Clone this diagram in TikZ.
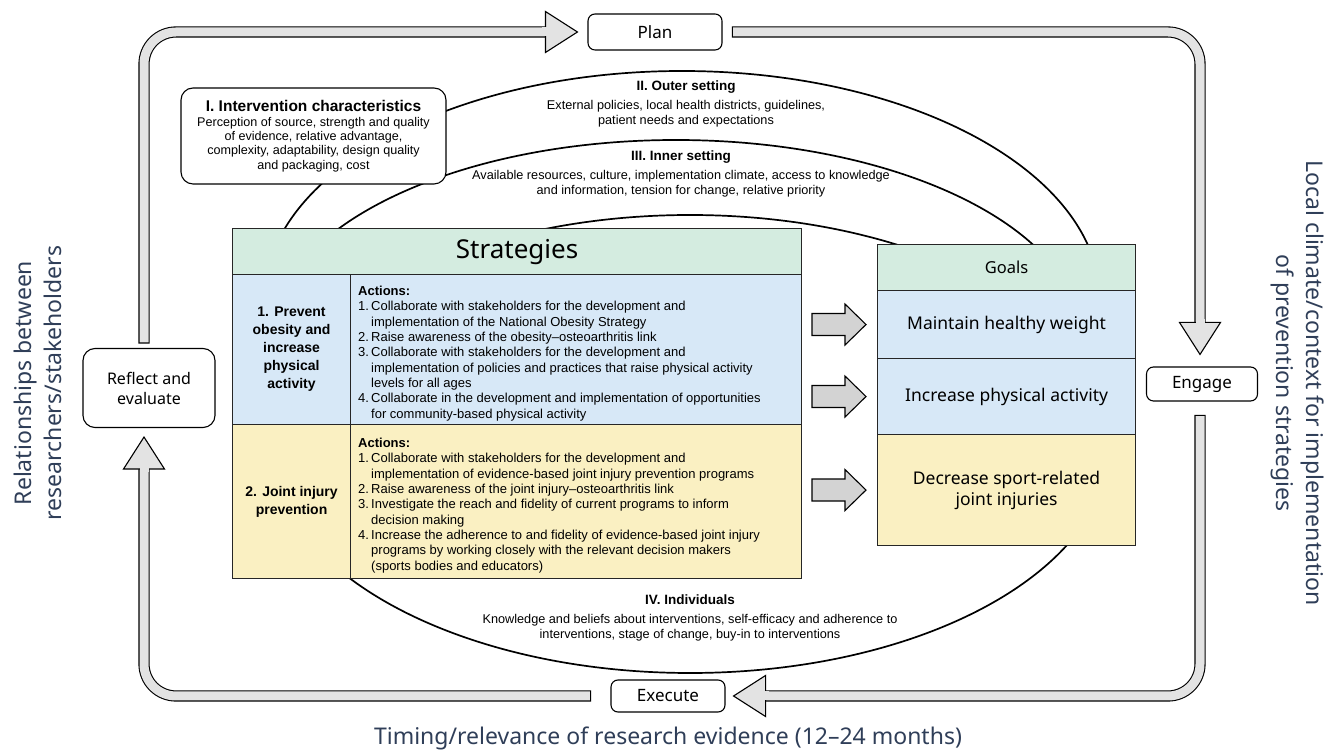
\documentclass[tikz,border=0pt]{standalone}
\usepackage{fontspec}
\setmainfont{Liberation Sans}
\newfontfamily\plainsans{Noto Sans}
\usepackage{tikz}
\usetikzlibrary{calc}

\definecolor{hdrgreen}{HTML}{D4ECE0}
\definecolor{rowblue}{HTML}{D7E8F7}
\definecolor{rowyellow}{HTML}{FAF0C2}
\definecolor{bandgray}{HTML}{E3E3E3}
\definecolor{blockgray}{HTML}{D3D3D3}
\definecolor{sideblue}{HTML}{2F3E58}

\newcommand{\acttxt}{\fontsize{13}{15.3}\selectfont}
\newcommand{\ringtxt}{\fontsize{12.7}{15.5}\selectfont}
\newcommand{\rowtxt}{\bfseries\fontsize{14}{18}\selectfont}
\newcommand{\goaltxt}{\plainsans\fontsize{17.5}{21}\selectfont}
\newlength{\actind}
\setlength{\actind}{1.3em}
\newcommand{\actno}[1]{\makebox[\actind][l]{#1.}}
\newcommand{\actcont}{\hspace*{\actind}}
\newcommand{\bandhead}[2]{%
  \draw[line width=1.1pt, fill=bandgray, shift={#1}, rotate=#2]
    (0,0) -- (-32,20.5) -- (-32,-20.5) -- cycle;
  \fill[bandgray, shift={#1}, rotate=#2] (-35,-4.5) rectangle (-30,4.5);}

\begin{document}
\begin{tikzpicture}[x=1pt, y=1pt,
  every node/.style={inner sep=0pt},
  loopbox/.style={draw, line width=1.1pt, rounded corners=7pt, fill=white,
    font={\plainsans\fontsize{17}{20}\selectfont}},
  tablecell/.style={draw=black!85, line width=1.1pt, anchor=north west},
  loopband/.style={draw, line width=1.1pt, double=bandgray,
    double distance=9pt, line cap=rect, rounded corners=32pt},
  ringline/.style={line width=1.7pt},
  blockarr/.style={draw, line width=1.1pt, fill=blockgray},
  sidelabel/.style={text=sideblue, align=center,
    font={\plainsans\fontsize{23}{30}\selectfont}}]

  \useasboundingbox (0,0) rectangle (1332,749);

  % domains behind the tables
  \begin{scope}
    \clip (0,505) rectangle (1332,749);
    \draw[ringline] (682,449) ellipse [x radius=418, y radius=229];
    \draw[ringline] (676,409) ellipse [x radius=406, y radius=200];
  \end{scope}
  \draw[ringline] (690,305) ellipse [x radius=420, y radius=229];

  \node[align=center, anchor=north, font=\ringtxt] (outer) at (686,668)
    {{\bfseries\fontsize{13.5}{15}\selectfont II. Outer setting}\\[3pt]
     External policies, local health districts, guidelines,\\
     patient needs and expectations};

  \node[align=center, anchor=north, font=\ringtxt] (inner) at (681,598)
    {{\bfseries\fontsize{13.5}{15}\selectfont III. Inner setting}\\[3pt]
     Available resources, culture, implementation climate, access to knowledge\\
     and information, tension for change, relative priority};

  \node[align=center, anchor=north, font=\ringtxt] (indiv) at (690,154)
    {{\bfseries\fontsize{13.5}{15}\selectfont IV. Individuals}\\[3pt]
     Knowledge and beliefs about interventions, self-efficacy and adherence to\\
     interventions, stage of change, buy-in to interventions};

  \node[draw, line width=1.1pt, rounded corners=12pt, fill=white,
    minimum width=265pt, minimum height=96pt, align=center,
    font=\fontsize{12.6}{14.2}\selectfont]
    (interv) at (313.5,613)
    {{\bfseries\fontsize{15.5}{17}\selectfont I. Intervention characteristics}\\[1pt]
     Perception of source, strength and quality\\
     of evidence, relative advantage,\\
     complexity, adaptability, design quality\\
     and packaging, cost};

  % strategies table
  \node[tablecell, fill=hdrgreen, minimum width=569pt, minimum height=46pt,
    font={\plainsans\fontsize{26}{30}\selectfont}]
    (strat) at (232,521) {Strategies};
  \node[tablecell, fill=rowblue, minimum width=118pt, minimum height=150pt,
    align=center, font=\rowtxt]
    (prevent) at (232,475) {1. Prevent\\obesity and\\increase\\physical\\activity};
  \node[tablecell, fill=rowblue, minimum width=451pt, minimum height=150pt]
    (preventact) at (350,475) {};
  \node[tablecell, fill=rowyellow, minimum width=118pt, minimum height=154pt,
    align=center, font=\rowtxt]
    (joint) at (232,325) {2. Joint injury\\prevention};
  \node[tablecell, fill=rowyellow, minimum width=451pt, minimum height=154pt]
    (jointact) at (350,325) {};

  \node[anchor=north west, align=left, font=\acttxt]
    (preventtxt) at ($(preventact.north west)+(8,-12)$)
    {{\bfseries Actions:}\\
     \actno{1}Collaborate with stakeholders for the development and\\
     \actcont implementation of the National Obesity Strategy\\
     \actno{2}Raise awareness of the obesity–osteoarthritis link\\
     \actno{3}Collaborate with stakeholders for the development and\\
     \actcont implementation of policies and practices that raise physical activity\\
     \actcont levels for all ages\\
     \actno{4}Collaborate in the development and implementation of opportunities\\
     \actcont for community-based physical activity};

  \node[anchor=north west, align=left, font=\acttxt]
    (jointtxt) at ($(jointact.north west)+(8,-14)$)
    {{\bfseries Actions:}\\
     \actno{1}Collaborate with stakeholders for the development and\\
     \actcont implementation of evidence-based joint injury prevention programs\\
     \actno{2}Raise awareness of the joint injury–osteoarthritis link\\
     \actno{3}Investigate the reach and fidelity of current programs to inform\\
     \actcont decision making\\
     \actno{4}Increase the adherence to and fidelity of evidence-based joint injury\\
     \actcont programs by working closely with the relevant decision makers\\
     \actcont (sports bodies and educators)};

  % goals table
  \node[tablecell, fill=hdrgreen, minimum width=258pt, minimum height=46pt,
    font={\plainsans\fontsize{16.5}{20}\selectfont}]
    (goalhdr) at (877,505) {Goals};
  \node[tablecell, fill=rowblue, minimum width=258pt, minimum height=68pt,
    font=\goaltxt]
    (goal1) at (877,459) {Maintain healthy weight};
  \node[tablecell, fill=rowblue, minimum width=258pt, minimum height=76pt,
    font=\goaltxt]
    (goal2) at (877,391) {Increase physical activity};
  \node[tablecell, fill=rowyellow, minimum width=258pt, minimum height=111pt,
    align=center, font=\goaltxt]
    (goal3) at (877,315) {Decrease sport-related\\joint injuries};

  \foreach \g in {goal1,goal2,goal3}
    \draw[blockarr, shift={($(\g.west)+(-11,0)$)}]
      (-54,11) -- (-21,11) -- (-21,20.5) -- (0,0) -- (-21,-20.5)
      -- (-21,-11) -- (-54,-11) -- cycle;

  % cycle
  \node[loopbox, minimum width=134pt, minimum height=36pt]
    (plan) at (655,717) {Plan};
  \node[loopbox, minimum width=111pt, minimum height=34pt]
    (engage) at (1202,365) {Engage};
  \node[loopbox, minimum width=114pt, minimum height=32pt]
    (execute) at (668,53) {Execute};
  \node[loopbox, rounded corners=12pt, minimum width=132pt, minimum height=79pt,
    align=center, font={\plainsans\fontsize{16}{20}\selectfont}]
    (reflect) at (149,361) {Reflect and\\evaluate};

  \coordinate (laneL) at (144,0);
  \coordinate (laneR) at (1200,0);

  \draw[loopband]
    ($(reflect.north -| laneL)+(0,10)$) |- ($(plan.west)+(-42,0)$);
  \bandhead{($(plan.west)+(-10,0)$)}{0}

  \draw[loopband]
    ($(plan.east)+(15,0)$) -| ($(engage.north -| laneR)+(0,44)$);
  \bandhead{($(engage.north -| laneR)+(0,12)$)}{-90}

  \draw[loopband]
    ($(engage.south -| laneR)+(0,-19)$) |- ($(execute.east)+(40,0)$);
  \bandhead{($(execute.east)+(8,0)$)}{180}

  \draw[loopband]
    ($(execute.west)+(-25,0)$) -| ($(reflect.south -| laneL)+(0,-41)$);
  \bandhead{($(reflect.south -| laneL)+(0,-9)$)}{90}

  \node[sidelabel, rotate=90] (relations) at (38,366)
    {Relationships between\\researchers/stakeholders};
  \node[sidelabel, rotate=-90] (climate) at (1298,366)
    {Local climate/context for implementation\\of prevention strategies};
  \node[sidelabel] (timing) at (668,11)
    {Timing/relevance of research evidence (12–24 months)};
\end{tikzpicture}
\end{document}
